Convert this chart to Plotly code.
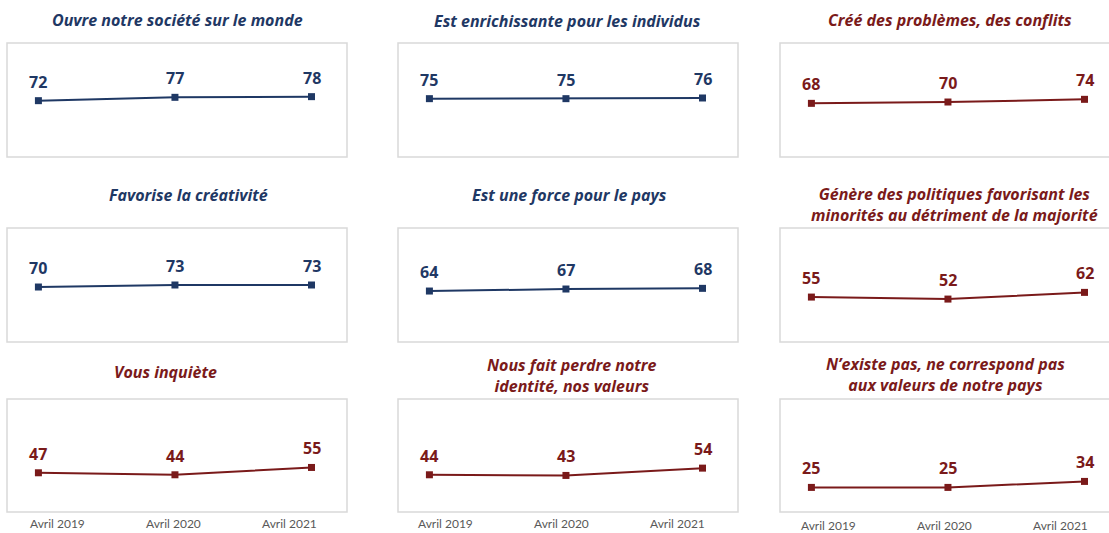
import plotly.graph_objects as go

# Survey periods shown on every small multiple
periods = ["Avril 2019", "Avril 2020", "Avril 2021"]

# Panel titles, read row by row (3 x 3 grid)
titles = [
    "Ouvre notre société sur le monde",
    "Est enrichissante pour les individus",
    "Créé des problèmes, des conflits",
    "Favorise la créativité",
    "Est une force pour le pays",
    "Génère des politiques favorisant les<br>minorités au détriment de la majorité",
    "Vous inquiète",
    "Nous fait perdre notre<br>identité, nos valeurs",
    "N’existe pas, ne correspond pas<br>aux valeurs de notre pays",
]

# Scores (%) for each panel, one value per period
ouvre = [72, 77, 78]
enrichissante = [75, 75, 76]
problemes = [68, 70, 74]
creativite = [70, 73, 73]
force = [64, 67, 68]
politiques = [55, 52, 62]
inquiete = [47, 44, 55]
identite = [44, 43, 54]
existe_pas = [25, 25, 34]
scores = [ouvre, enrichissante, problemes,
          creativite, force, politiques,
          inquiete, identite, existe_pas]

# Positive statements in navy, negative ones in dark red
tones = ["pos", "pos", "neg", "pos", "pos", "neg", "neg", "neg", "neg"]

NAVY = "#1F3864"
RED = "#7A1A1A"
palette = {"pos": NAVY, "neg": RED}
BORDER = "#D9D9D9"
TICK = "#595959"
TITLE_FONT = "Open Sans"
LABEL_FONT = "Open Sans"
TICK_FONT = "Lato"

W, H = 1109, 533
# Panel boxes in pixels (left, right) per column and (top, bottom) per row
col_px = [(7, 347), (398, 738), (780, 1120)]
row_px = [(43, 157), (228, 342), (399, 512)]
# Title block centres, in pixels (x per panel, y per row/column)
title_x = [177, 567, 950, 188, 569, 954, 165, 572, 945]
title_y = [[20, 21, 20], [195, 195, 204], [372, 375, 374]]
# Period labels under the bottom row: first label centre and spacing (px)
tick_start = [57, 445, 828]
tick_step = 116
tick_y = [523, 523, 525]

X_RANGE = (-0.23, 2.26)
Y_RANGE = [-12, 158]

fig = go.Figure()
layout = {}
annotations = []
shapes = []

for i in range(9):
    r, c = divmod(i, 3)
    suffix = "" if i == 0 else str(i + 1)
    color = palette[tones[i]]
    left, right = col_px[c]
    top, bottom = row_px[r]

    # The last column runs off the right edge of the page
    vis_right = min(right, W)
    span = X_RANGE[1] - X_RANGE[0]
    x_hi = X_RANGE[0] + span * (vis_right - left) / (right - left)

    fig.add_trace(go.Scatter(
        x=periods, y=scores[i],
        mode="lines+markers",
        line=dict(color=color, width=2),
        marker=dict(symbol="square", size=7, color=color),
        xaxis="x" + suffix, yaxis="y" + suffix,
        showlegend=False, hoverinfo="skip",
    ))

    layout["xaxis" + suffix] = dict(
        domain=[left / W, vis_right / W],
        anchor="y" + suffix,
        type="category",
        range=[X_RANGE[0], x_hi],
        showgrid=False, zeroline=False, showline=False,
        ticks="", showticklabels=False,
        fixedrange=True,
    )
    layout["yaxis" + suffix] = dict(
        domain=[1 - bottom / H, 1 - top / H],
        anchor="x" + suffix,
        range=Y_RANGE,
        showgrid=False, zeroline=False, showline=False,
        showticklabels=False, ticks="",
        fixedrange=True,
    )

    # Light frame around each panel
    shapes.append(dict(
        type="rect", xref="paper", yref="paper",
        x0=left / W, x1=right / W, y0=1 - bottom / H, y1=1 - top / H,
        line=dict(color=BORDER, width=1.5), fillcolor="rgba(0,0,0,0)",
        layer="below",
    ))

    # Panel title
    annotations.append(dict(
        xref="paper", yref="paper",
        x=title_x[i] / W, y=1 - title_y[r][c] / H,
        xanchor="center", yanchor="middle",
        text="<b><i>" + titles[i] + "</i></b>",
        showarrow=False,
        font=dict(family=TITLE_FONT, size=16, color=color),
    ))

    # Value labels above each point
    for p, v in zip(periods, scores[i]):
        annotations.append(dict(
            xref="x" + suffix, yref="y" + suffix,
            x=p, y=v, yshift=19,
            xanchor="center", yanchor="middle",
            text="<b>%d</b>" % v,
            showarrow=False,
            font=dict(family=LABEL_FONT, size=16, color=color),
        ))

    # Period labels below the bottom row of panels
    if r == 2:
        for k, p in enumerate(periods):
            annotations.append(dict(
                xref="paper", yref="paper",
                x=(tick_start[c] + k * tick_step) / W,
                y=1 - tick_y[c] / H,
                xanchor="center", yanchor="middle",
                text=p, showarrow=False,
                font=dict(family=TICK_FONT, size=12, color=TICK),
            ))

fig.update_layout(
    width=W, height=H,
    margin=dict(l=0, r=0, t=0, b=0),
    paper_bgcolor="white", plot_bgcolor="white",
    annotations=annotations, shapes=shapes,
    **layout,
)

fig.write_html("out.html", config={"displayModeBar": False})
